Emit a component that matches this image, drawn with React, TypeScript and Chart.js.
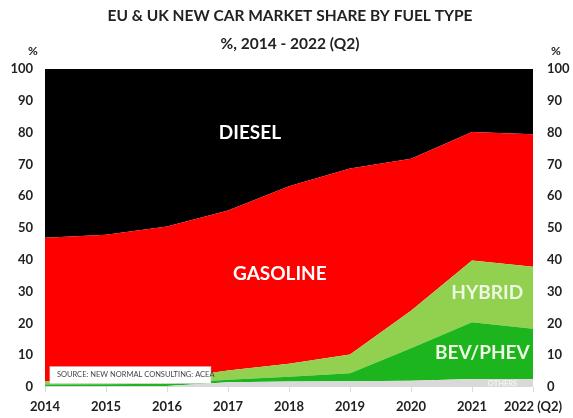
import React, { useEffect, useRef } from "react";
import { Chart, registerables } from "chart.js";

Chart.register(...registerables);

const years = ["2014", "2015", "2016", "2017", "2018", "2019", "2020", "2021", "2022 (Q2)"];
const others = [0.2, 0.2, 0.3, 1.5, 1.7, 1.8, 2.0, 2.5, 2.5];
const bevPhev = [0.6, 0.7, 0.7, 0.8, 1.5, 2.5, 10.2, 17.9, 15.8];
const hybrid = [0.9, 1.1, 1.5, 2.9, 4.1, 5.9, 11.8, 19.4, 19.5];
const gasoline = [45.2, 45.9, 48.0, 50.3, 55.8, 58.5, 47.8, 40.4, 41.7];
const diesel = [53.1, 52.1, 49.5, 44.5, 36.9, 31.3, 28.2, 19.8, 20.5];
const yTicks = [0, 10, 20, 30, 40, 50, 60, 70, 80, 90, 100];

const titleText = "EU & UK NEW CAR MARKET SHARE BY FUEL TYPE";
const subtitleText = "%, 2014 - 2022 (Q2)";
const sourceText = "SOURCE: NEW NORMAL CONSULTING: ACEA";

const FONT = "Lato, 'Open Sans', sans-serif";

// area labels: [text, x index, y value, size, color]
const areaLabels: [string, number, number, number, string][] = [
  ["DIESEL", 3.36, 80, 19, "#ffffff"],
  ["GASOLINE", 3.85, 35.6, 19, "#ffffff"],
  ["HYBRID", 7.25, 29.6, 19, "#eef7e4"],
  ["BEV/PHEV", 7.17, 10.7, 19, "#eef7e4"],
];

export default function App() {
  const ref = useRef<HTMLCanvasElement | null>(null);
  useEffect(() => {
    if (!ref.current) return;
    const overlay = {
      id: "overlay",
      afterDraw(chart: any) {
        const ctx = chart.ctx;
        const xs = chart.scales.x;
        const ys = chart.scales.y;
        ctx.save();
        ctx.textAlign = "center";
        ctx.textBaseline = "middle";
        ctx.fillStyle = "#222";
        ctx.font = `bold 15.5px ${FONT}`;
        ctx.fillText(titleText, 290, 16);
        ctx.fillText(subtitleText, 290, 44);
        ctx.font = `bold 12px ${FONT}`;
        ctx.fillText("%", 33, 51);
        ctx.fillText("%", 556, 51);
        for (const [t, xi, yv, sz, col] of areaLabels) {
          ctx.font = `bold ${sz}px ${FONT}`;
          ctx.fillStyle = col;
          ctx.fillText(t, xs.getPixelForValue(xi), ys.getPixelForValue(yv));
        }
        ctx.font = `bold 7.5px ${FONT}`;
        ctx.fillStyle = "rgba(255,255,255,0.75)";
        ctx.fillText("OTHERS", xs.getPixelForValue(7.5), ys.getPixelForValue(1.2));
        // source box
        const bx0 = xs.getPixelForValue(0.08);
        const bx1 = xs.getPixelForValue(2.72);
        const by0 = ys.getPixelForValue(6.4);
        const by1 = ys.getPixelForValue(1.1);
        ctx.fillStyle = "#ffffff";
        ctx.fillRect(bx0, by0, bx1 - bx0, by1 - by0);
        ctx.strokeStyle = "#d0d0d0";
        ctx.lineWidth = 0.5;
        ctx.strokeRect(bx0, by0, bx1 - bx0, by1 - by0);
        ctx.font = `7.5px ${FONT}`;
        ctx.fillStyle = "#444";
        ctx.textAlign = "left";
        ctx.fillText(sourceText, bx0 + 7, (by0 + by1) / 2);
        ctx.restore();
      },
    };
    const mk = (label: string, data: number[], color: string, fill: any) => ({
      label,
      data,
      backgroundColor: color,
      borderColor: color,
      borderWidth: 0,
      pointRadius: 0,
      tension: 0,
      fill,
    });
    const chart = new Chart(ref.current, {
      type: "line",
      data: {
        labels: years,
        datasets: [
          mk("Others", others, "#d9d9d9", "origin"),
          mk("BEV/PHEV", bevPhev, "#1db51d", "-1"),
          mk("Hybrid", hybrid, "#92d050", "-1"),
          mk("Gasoline", gasoline, "#ff0000", "-1"),
          mk("Diesel", diesel, "#000000", "-1"),
        ],
      },
      options: {
        responsive: false,
        animation: false,
        layout: { padding: { top: 69, left: 0, right: 0, bottom: 0 } },
        plugins: {
          legend: { display: false },
          tooltip: { enabled: false },
          title: { display: false },
        },
        scales: {
          x: {
            offset: false,
            grid: { display: true, drawOnChartArea: false, tickLength: 5, color: "#dddddd" },
            border: { display: false },
            ticks: {
              color: "#222",
              font: { family: FONT, weight: "bold", size: 13 },
              padding: 7,
              maxRotation: 0,
              autoSkip: false,
            },
            afterFit: (s: any) => {
              s.height = 31;
            },
          },
          y: {
            stacked: true,
            min: 0,
            max: 100,
            grid: { display: false },
            border: { display: false },
            afterBuildTicks: (s: any) => {
              s.ticks = yTicks.map((v) => ({ value: v }));
            },
            ticks: {
              color: "#222",
              font: { family: FONT, weight: "bold", size: 13 },
              padding: 4,
            },
            afterFit: (s: any) => {
              s.width = 45;
            },
          },
          y2: {
            position: "right",
            min: 0,
            max: 100,
            grid: { display: false },
            border: { display: false },
            afterBuildTicks: (s: any) => {
              s.ticks = yTicks.map((v) => ({ value: v }));
            },
            ticks: {
              color: "#222",
              font: { family: FONT, weight: "bold", size: 13 },
              padding: 6,
            },
            afterFit: (s: any) => {
              s.width = 40;
            },
          },
        },
      },
      plugins: [overlay],
    });
    return () => chart.destroy();
  }, []);
  return (
    <div style={{ position: "fixed", left: 0, top: 0, width: 573, height: 418, background: "#fff" }}>
      <canvas ref={ref} width={573} height={418} />
    </div>
  );
}
